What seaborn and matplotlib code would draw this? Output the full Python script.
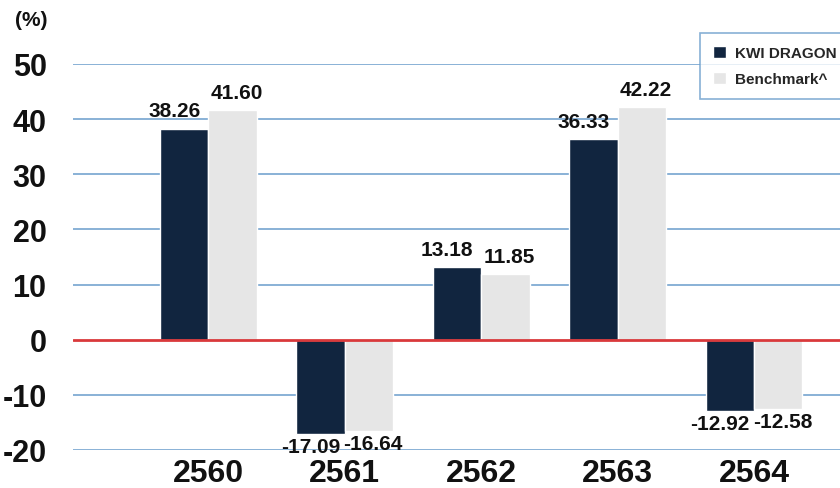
import pandas as pd
import seaborn as sns
import matplotlib.pyplot as plt

years = ['2560', '2561', '2562', '2563', '2564']
fund = [38.26, -17.09, 13.18, 36.33, -12.92]
bench = [41.60, -16.64, 11.85, 42.22, -12.58]
series = ['KWI DRAGON', 'Benchmark^']
yticks = [-20, -10, 0, 10, 20, 30, 40, 50]


def main():
    df = pd.DataFrame({
        'year': years * 2,
        'value': fund + bench,
        'series': [series[0]] * len(years) + [series[1]] * len(years),
    })

    sns.set_style('white')
    plt.rcParams['font.family'] = ['Liberation Sans', 'DejaVu Sans']
    plt.rcParams['axes.unicode_minus'] = False

    fig = plt.figure(figsize=(8.4, 4.89), dpi=100)
    ax = fig.add_axes([73 / 840, 1 - 451 / 489, 1 - 73 / 840, (451 - 65) / 489])

    for y in yticks:
        if y != 0:
            ax.axhline(y, color='#6a9dcb', lw=1.1, zorder=0)

    sns.barplot(df, x='year', y='value', hue='series',
                palette=['#11253f', '#e6e6e6'], width=0.71, gap=0,
                saturation=1, ax=ax, zorder=2)
    ax.axhline(0, color='#d9393b', lw=2, zorder=3)

    # labels: dark bars nudged left, light bars nudged right (as in source)
    shifts = [-7, 3]
    for cont, dx in zip(ax.containers, shifts):
        texts = ax.bar_label(cont, fmt='%.2f', padding=6, fontsize=15,
                             fontweight='bold', color='#111111')
        for t, bar in zip(texts, cont):
            if bar.get_height() < 0:
                t.xyann = (dx, -2)
            else:
                t.xyann = (dx, 6)

    ax.set_xlim(-0.99, 4.63)
    ax.set_ylim(-20, 50)
    ax.set_yticks(yticks)
    ax.set_xlabel('')
    ax.set_ylabel('')
    for s in ax.spines.values():
        s.set_visible(False)
    ax.tick_params(axis='both', length=0, labelsize=22, colors='#111111')
    ax.tick_params(axis='x', labelsize=23, pad=6)
    ax.tick_params(axis='y', pad=19)
    for lab in ax.get_xticklabels() + ax.get_yticklabels():
        lab.set_fontweight('bold')

    handles, labels = ax.get_legend_handles_labels()
    leg = ax.legend(handles, labels, loc='upper left',
                    bbox_to_anchor=(700 / 840, 1 - 34 / 489),
                    bbox_transform=fig.transFigure, frameon=True,
                    fancybox=False, borderaxespad=0,
                    handlelength=0.85, handleheight=0.85,
                    handletextpad=0.6, labelspacing=0.75, borderpad=0.85,
                    prop={'weight': 'bold', 'size': 11})
    leg.get_frame().set_edgecolor('#6a9dcb')
    leg.get_frame().set_linewidth(1.2)

    fig.text(15 / 840, 1 - 20 / 489, '(%)', fontsize=15, fontweight='bold',
             va='center', color='#111111')

    plt.savefig('out.png', dpi=100)


if __name__ == '__main__':
    main()
